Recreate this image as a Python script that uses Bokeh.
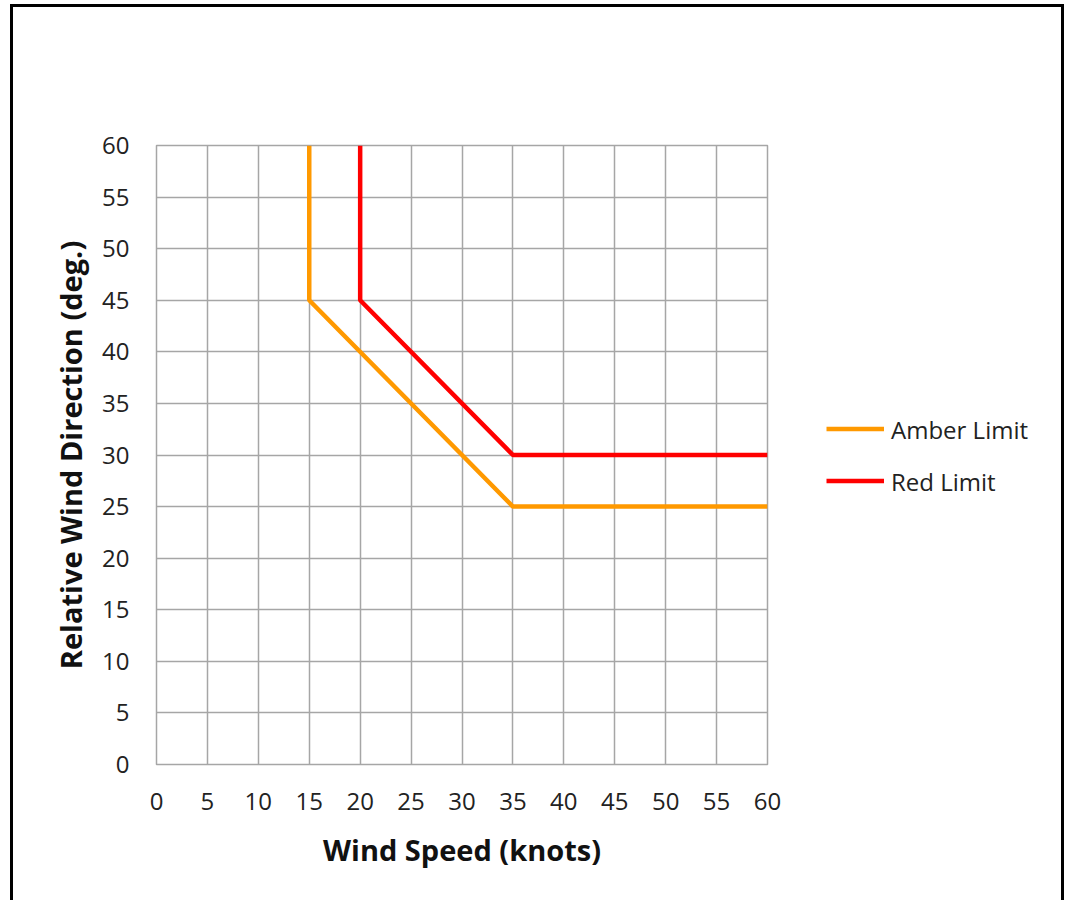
from bokeh.plotting import figure
from bokeh.models import Range1d, Legend, LegendItem, FixedTicker
from bokeh.embed import file_html
from bokeh.resources import INLINE

# data
amber_speed = [15, 15, 35, 60]
amber_dir = [60, 45, 25, 25]
red_speed = [20, 20, 35, 60]
red_dir = [60, 45, 30, 30]
x_ticks = [0, 5, 10, 15, 20, 25, 30, 35, 40, 45, 50, 55, 60]
y_ticks = [0, 5, 10, 15, 20, 25, 30, 35, 40, 45, 50, 55, 60]
series_names = ["Amber Limit", "Red Limit"]

FONT = "Open Sans"
GRID = "#a6a6a6"

p = figure(frame_width=611, frame_height=619, output_backend="svg", toolbar_location=None,
           x_range=Range1d(0, 60), y_range=Range1d(0, 60),
           min_border_left=143, min_border_top=138, min_border_right=0, min_border_bottom=137,
           styles={"border": "3px solid black", "margin-left": "10px", "margin-top": "4px",
                   "max-width": "1054px", "overflow": "hidden"})

p.outline_line_color = GRID
p.outline_line_width = 1.5

for ax, ticks in ((p.xaxis[0], x_ticks), (p.yaxis[0], y_ticks)):
    ax.ticker = FixedTicker(ticks=ticks)
    ax.axis_line_color = None
    ax.major_tick_line_color = None
    ax.minor_tick_line_color = None
    ax.major_tick_out = 0
    ax.major_tick_in = 0
    ax.major_label_text_font = FONT
    ax.major_label_text_font_size = "24px"
    ax.major_label_text_color = "#222222"
    ax.axis_label_text_font = FONT
    ax.axis_label_text_font_size = "29px"
    ax.axis_label_text_font_style = "bold"
    ax.axis_label_text_color = "#111111"

p.xaxis.axis_label = "Wind Speed (knots)"
p.yaxis.axis_label = "Relative Wind Direction (deg.)"
p.xaxis.major_label_standoff = 28
p.yaxis.major_label_standoff = 27
p.xaxis.axis_label_standoff = 17
p.yaxis.axis_label_standoff = 9

p.xgrid.ticker = FixedTicker(ticks=x_ticks)
p.ygrid.ticker = FixedTicker(ticks=y_ticks)
p.grid.grid_line_color = GRID
p.grid.grid_line_width = 1.5

r1 = p.line(amber_speed, amber_dir, line_color="#ff9900", line_width=4.5)
r2 = p.line(red_speed, red_dir, line_color="#ff0000", line_width=4.5)

legend = Legend(items=[LegendItem(label=series_names[0], renderers=[r1]),
                       LegendItem(label=series_names[1], renderers=[r2])],
                location="center_left", padding=0, margin=59, spacing=19,
                glyph_width=58, glyph_height=20, label_height=20, label_standoff=7,
                border_line_color=None, background_fill_alpha=0,
                label_text_font=FONT, label_text_font_size="24px", label_text_color="#222222")
p.add_layout(legend, "right")

open("out.html", "w").write(file_html(p, INLINE))
